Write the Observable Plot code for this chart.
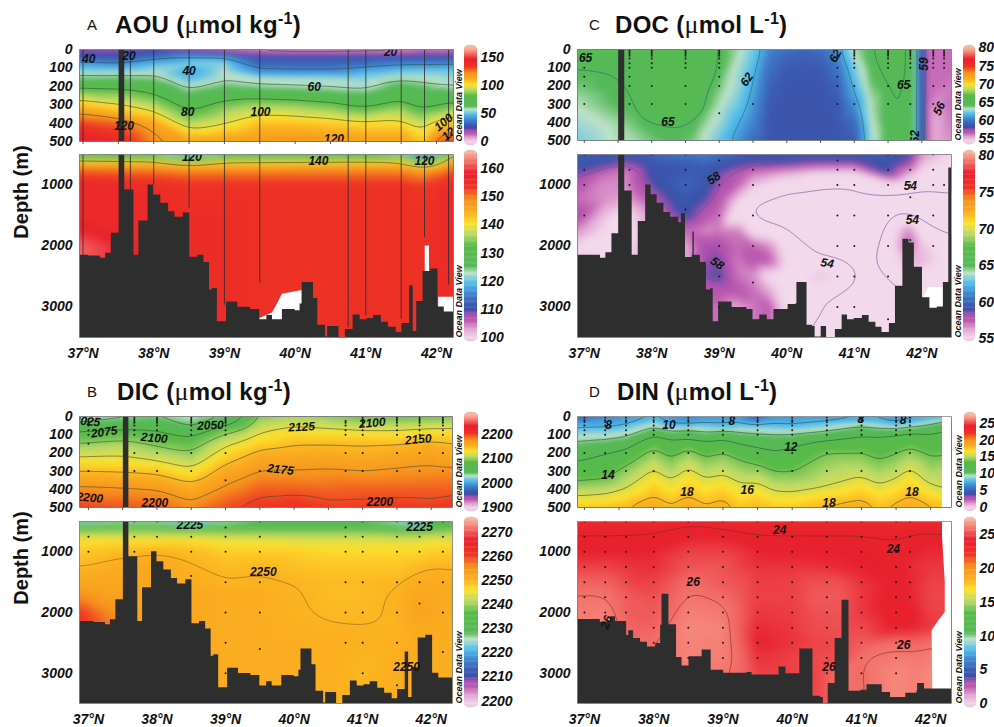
<!DOCTYPE html>
<html><head><meta charset="utf-8">
<script src="https://cdn.jsdelivr.net/npm/d3@7"></script>
<script src="https://cdn.jsdelivr.net/npm/@observablehq/plot@0.6"></script>
<style>
html,body{margin:0;background:#fff}
#root{position:relative;width:994px;height:727px;overflow:hidden;font-family:"Liberation Sans",Arial,sans-serif;color:#111}
#root>div{position:absolute}
.ttl{font-weight:bold;font-size:24px;line-height:26px;white-space:nowrap;letter-spacing:.3px}
.ttl .mu{font-family:"Liberation Serif",serif;font-weight:normal;font-size:26px}
.ttl sup{font-size:16px;line-height:0}
.let{font-size:15px;line-height:26px}
.dep{font-weight:bold;font-size:20px;white-space:nowrap;transform:translate(-50%,-50%) rotate(-90deg)}
</style></head><body><div id="root"></div>
<script>
// ---------- colour ramp ----------
const stopFrac=[0,.05,.09,.125,.15,.18,.235,.30,.355,.39,.5,.565,.625,.68,.75,.82,.9,1];
const stopCol=["#f3d9ec","#e0a0d0","#bd5bb0","#a94fae","#3c4fa8","#3c58b0","#3f7fcb","#52bdec","#bfe2c8","#56b95a","#58ba48","#b9d96a","#fde12e","#fbb120","#f6921e","#ee3424","#e8202e","#f9a08e"];

// ---------- bathymetry ----------
const bathyLat=[36.8,37.08,37.25,37.32,37.40,37.51,37.59,37.72,37.79,37.92,38.0,38.10,38.21,38.30,38.42,38.51,38.62,38.71,38.79,38.83,38.90,39.03,39.19,39.37,39.50,39.60,39.68,39.82,40.0,40.07,40.10,40.26,40.32,40.43,40.46,40.62,40.71,40.82,40.92,41.02,41.11,41.22,41.32,41.43,41.51,41.62,41.67,41.72,41.81,41.92,42.02,42.11,42.4];
const bathyDep=[2150,2165,2200,2120,1790,0,1080,2150,1590,1000,1165,1300,1440,1530,1460,2185,2150,2270,2720,2695,3240,2920,3005,3040,3210,3140,3210,3040,3060,2950,2600,2860,3300,3490,3320,3500,3370,3130,3210,3190,3140,3250,3330,3420,3270,2650,3400,2910,2420,2375,3000,3080,3080];
const bathyCLat=[36.8,37.24,37.32,37.41,37.51,37.60,37.71,37.80,37.91,37.99,38.08,38.18,38.28,38.40,38.44,38.50,38.60,38.61,38.63,38.72,38.81,38.87,38.91,38.99,39.19,39.41,39.50,39.60,39.71,39.81,40.0,40.02,40.13,40.15,40.30,40.38,40.42,40.51,40.59,40.72,40.82,40.90,41.0,41.12,41.22,41.32,41.41,41.52,41.61,41.72,41.81,41.89,42.01,42.12,42.23,42.32,42.40,42.5];
const bathyCDep=[2150,2200,2110,1800,0,1100,2150,1600,1000,1160,1300,1450,1530,1620,1470,2190,2150,1770,2150,2270,2720,2700,3240,2920,3010,3040,3210,3130,3210,3040,3040,2960,2950,2600,3300,3320,3490,3320,3500,3370,3130,3210,3190,3140,3250,3330,3420,3270,2660,1890,1950,2350,2850,3020,3000,2600,720,720];
const bathyDLat=[36.8,37.23,37.38,37.45,37.61,37.64,37.71,37.81,37.91,38.03,38.10,38.12,38.22,38.29,38.33,38.41,38.51,38.70,38.81,38.83,39.01,39.35,39.42,39.81,39.90,39.91,40.10,40.11,40.28,40.30,40.41,40.45,40.50,40.52,40.62,40.72,40.79,40.82,40.99,41.08,41.21,41.30,41.42,41.59,41.64,41.80,41.81,41.88,41.91,42.4];
const bathyDDep=[2115,2160,2070,2150,2380,2300,2430,2490,2570,2510,2210,1700,2200,2200,2740,2880,2730,2620,2620,2950,3000,2990,3030,2900,2900,3010,3010,2600,2600,3380,3400,3500,3500,3170,2430,1800,1800,3300,3280,3190,3190,3320,3400,3400,3330,3300,3170,3170,3260,3260];

// ---------- panel A ----------
const aTopLat=[36.95,37.5,38,38.5,39,39.5,40,40.5,41,41.5,41.8,42,42.25];
const aTopDep=[0,40,80,120,160,200,300,400,500];
const aTopVal=[
[20,20,22,15,12,10,8,8,8,8,12,10,12],
[30,28,35,45,42,28,28,28,28,28,28,28,28],
[46,42,50,53,55,33,33,33,35,40,40,40,42],
[55,55,57,45,57,42,41,41,48,52,53,53,52],
[63,64,62,50,58,58,57,57,55,59,58,57,55],
[78,78,72,57,63,60,59,57,56,66,63,60,58],
[108,100,92,74,85,90,88,84,76,85,75,78,83],
[133,128,115,92,99,108,108,106,103,103,95,103,110],
[150,142,124,117,118,121,121,120,118,118,108,128,135]];
const aBotLat=[36.95,38,38.5,39,40,41,41.5,41.8,42,42.25];
const aBotDep=[500,600,700,800,1000,1500,2000,2500,3000,3500];
const aBotVal=[
[125,124,118,124,124,125,122,112,118,135],
[140,140,133,139,140,140,140,130,135,146],
[148,147,145,146,146,146,146,142,144,151],
[152,151,150,150,150,150,150,148,150,153],
[156,155,154,154,154,154,154,153,154,156],
[156,156,155,155,154,154,154,154,155,157],
[162,156,155,155,154,154,154,154,155,156],
[162,156,155,155,154,154,154,154,155,155],
[155,155,155,155,154,154.5,154,154,155,155],
[155,155,155,155,154,154,154,154,155,155]];
const aRuleLat=[37,37.67,38,38.5,39,39.5,40.75,41,41.5,41.83,42.17];
const aRuleEnd=[2150,1100,1000,1380,2970,2610,3340,3150,3200,1860,2640];
const aGaps=[{lat:[39.5,39.68,39.75,39.82,40.1],dep:[3190,3100,2950,2790,2730]},{lat:[41.84,41.9],dep:[2000,2000]},{lat:[42.03,42.3],dep:[2840,2840]}];
const aTopLab={t:["40","20","40","20","60","80","100","120","120","100","12"],lat:[37.08,37.65,38.5,41.35,40.27,38.48,39.51,37.58,40.55,42.1,42.17],dep:[55,36,117,13,204,341,338,414,487,396,460],rot:[0,0,0,0,0,0,0,0,0,-40,-40]};
const aBotLab={t:["120","140","120"],lat:[38.54,40.33,41.83],dep:[546,606,606],rot:[0,0,0]};

// ---------- panel B ----------
const bTopLat=[36.87,37.5,38,38.5,39,39.25,39.5,40,40.5,41,41.5,42,42.31];
const bTopDep=[0,50,100,150,200,300,400,500];
const bTopVal=[
[2025,2035,2040,2030,2040,2060,2098,2105,2100,2090,2090,2090,2095],
[2060,2065,2065,2045,2076,2088,2115,2125,2120,2115,2115,2120,2120],
[2085,2090,2085,2070,2106,2115,2128,2138,2137,2135,2135,2140,2140],
[2100,2108,2095,2090,2122,2130,2141,2150,2150,2150,2150,2155,2150],
[2118,2120,2110,2100,2135,2145,2156,2157,2158,2155,2160,2165,2158],
[2150,2148,2145,2130,2160,2167,2176,2176,2178,2175,2178,2180,2180],
[2180,2178,2175,2160,2180,2187,2195,2195,2193,2195,2195,2195,2195],
[2205,2198,2197,2183,2200,2205,2208,2212,2205,2205,2207,2205,2212]];
const bBotLat=[36.87,37.4,38,38.5,39,39.5,40,40.5,41,41.5,41.8,42,42.31];
const bBotDep=[500,600,700,800,1000,1250,1500,1750,2000,2250,2500,3000,3500];
const bBotVal=[
[2222,2225,2225,2220,2225,2228,2228,2228,2228,2225,2219,2228,2230],
[2235,2236,2236,2233,2234,2234,2234,2234,2234,2232,2230,2234,2236],
[2242,2242,2242,2242,2241,2241,2241,2241,2241,2240,2240,2241,2242],
[2246,2246,2246,2246,2245,2245,2244,2244,2244,2244,2244,2245,2245],
[2248.5,2249.5,2250.5,2249.5,2248,2248,2248,2247,2247,2247,2247,2248,2248],
[2249.7,2251,2252,2250.3,2249.5,2249.8,2249,2248.5,2248.5,2248.5,2249.5,2250.2,2249.8],
[2252,2252,2252,2251,2250,2250.3,2250.1,2249.5,2249.5,2249.8,2251,2251.5,2251],
[2256,2253,2252,2252,2251,2251,2250.2,2249.5,2249.5,2250.2,2252,2252,2251],
[2261,2255,2252,2252,2251,2251,2250.3,2249.6,2249.6,2250.3,2252.5,2252,2251],
[2262,2256,2252,2252,2251,2251,2250.6,2250.2,2250.1,2250.2,2251.5,2251.5,2251],
[2262,2256,2252,2252,2251,2251,2251,2250.8,2250.4,2250.5,2251,2251,2251],
[2262,2256,2252,2252,2251,2251,2251,2250.6,2249.8,2251,2251,2251,2251],
[2262,2256,2252,2252,2251,2251,2251,2250.6,2249.8,2251,2251,2251,2251]];
const bTopLab={t:["2025","2075","2100","2050","2125","2100","2150","2175","2200","2200","2200"],lat:[36.98,37.23,37.96,38.78,40.11,41.14,41.81,39.8,37.02,37.97,41.25],dep:[27,86,119,49,58,36,126,292,447,478,469],rot:[5,-8,5,-3,-3,-5,-5,6,5,0,0]};
const bBotLab={t:["2225","2225","2250","2250"],lat:[38.48,41.83,39.55,41.64],dep:[563,590,1328,2896],rot:[0,0,0,0]};

// ---------- panel C ----------
const cTopLat=[36.9,37.5,37.7,38,38.3,38.6,39,39.3,39.5,39.75,40,40.25,40.5,40.75,41,41.25,41.5,41.75,41.88,41.95,42.03,42.08,42.2,42.44];
const cTopDep=[0,100,200,300,400,500];
const cTopVal=[
[66,65.5,66,66,66,66,65,64,63,61,60.3,60,60.3,61.5,64,65,65.5,65.5,65,60.5,59.3,57,57,57],
[65,65,65.2,66,66,66,65,63.5,62.5,60.3,59.6,59.5,59.6,60.5,63,64.8,65.3,65.5,65,60.5,59.3,57,57,57],
[64.5,65,65,66,66,66,64.5,63.3,62,59.8,59.3,59.3,59.3,59.8,62.3,64.5,65,65.2,65,60.5,59.3,57,57,56.8],
[64,64.8,64.8,66,66,66,64,62.8,61.5,59.5,59.3,59.3,59.3,59.5,61.3,64,65,65,64.8,60.5,59.3,57,56.5,57],
[63.5,64.2,64.5,65,65.1,65,63.5,62,61,59.3,59.3,59.3,59.3,59.4,60.2,63.8,65,65,64.8,60.5,59.3,57,56,56.8],
[63,64,64,64.5,64.8,64.5,62.8,61.3,60.3,59.3,59.3,59.3,59.3,59.3,59.6,63.5,65,65,64.5,60.5,59.3,57,56,56.5]];
const cBotLat=[36.9,37.3,37.6,38,38.5,38.8,39,39.25,39.5,39.75,40,40.5,41,41.5,41.8,42,42.44];
const cBotDep=[500,650,800,1000,1250,1500,1750,2000,2250,2500,2750,3000,3500];
const cBotVal=[
[59.5,59.5,59.5,60,60.8,61,60.5,60,59.5,59.5,59.5,59.5,59.5,59.5,59,56.5,55],
[59.5,59,58,59.3,59.5,59.8,59.5,59,58.5,58.5,58.5,58,58,59.3,58,55.5,54.8],
[58.5,57,56.5,59,59.5,59.5,58.5,57.5,56.8,56.5,56,55,54.8,58.8,56,54.8,54.8],
[57.5,56.5,56.5,58.5,60,59.3,58,57.3,55.5,54.8,54,53.8,53.8,53.9,53.9,54,54.1],
[57,56.5,56,57.5,59.5,58.5,57.5,55.5,53.9,53.8,53.8,53.8,53.8,53.8,53.8,53.8,53.9],
[58,55.5,54.5,56.5,59,57.5,57,53.8,53.7,53.7,53.5,53.5,53.5,53.5,53.5,53.5,53.5],
[56.5,55,54.5,56,57,56.5,56.8,56.8,54.5,54,53.9,53.5,53.5,53.8,56.8,54.3,53.9],
[55,54.5,55,56,56,58,58,57,57.2,56.5,54.3,53.8,53.5,54.2,57.3,55.5,54.1],
[55.5,55,55,56,56,58.2,58.5,56.8,57.5,57.3,54.8,54,53.8,54.2,56,55.8,54.2],
[55.5,55,55,56,57,58.4,58.7,57,56.5,54.5,54,55.6,54,53.8,54.5,54.8,54.5],
[55.5,55,55,56,57,57.5,57.5,57.5,57,56,54.2,54,53.9,53.8,54,54.3,54.5],
[55.5,55,55,56,57,57,57,56,56.8,57.3,54.5,54,53.8,53.8,53.9,54,54],
[55.5,55,55,56,57,57,57,56,56.8,57.3,54.2,53.8,53.9,53.9,53.9,54,54]];
const cGaps=[{lat:[42.03,42.1,42.28,42.33],dep:[2850,2680,2680,2680]}];
const cTopLab={t:["65","65","62","65","59","56","62","62"],lat:[37.02,38.24,39.41,41.73,42.03,42.26,40.72,41.9],dep:[47,398,165,198,80,325,35,480],rot:[0,0,-55,0,-90,-65,-60,-90]};
const cBotLab={t:["58","54","54","54","58"],lat:[38.92,41.83,41.86,40.6,38.97],dep:[890,1027,1574,2284,2284],rot:[-35,0,0,10,35]};

// ---------- panel D ----------
const dTopLat=[36.9,37.3,37.6,38,38.25,38.5,38.75,39,39.25,39.5,39.75,40,40.5,41,41.25,41.5,41.7,42,42.3];
const dSurface=[5.5,6.5,7,7.5,7,6.5,7,7,7,5.5,7,7,7,7.5,7.5,7,7.5,8,9];
const dLevels=[8,10,12,14,16,18];
const dIsoDepth=[
[58,60,45,10,45,50,40,50,40,45,45,50,30,20,25,40,30,10,5],
[135,125,110,60,80,70,85,75,85,90,95,95,80,50,65,70,60,40,20],
[246,205,180,100,125,125,135,125,150,170,190,165,130,105,105,90,80,90,60],
[356,345,270,170,230,175,225,195,240,265,305,305,195,195,240,205,170,220,205],
[436,425,395,285,350,275,340,315,365,360,410,415,385,330,375,340,280,380,410],
[510,510,490,430,480,430,480,450,520,490,520,520,480,450,500,470,430,480,520]];
const dBotLat=[36.9,37.3,37.7,38,38.5,39,39.25,39.5,40,40.3,40.7,41,41.5,41.75,42,42.3];
const dBotDep=[500,700,1000,1250,1500,1750,2000,2250,2500,2750,3000,3500];
const dBotVal=[
[23.3,23.3,23.4,23.5,23.7,23.5,23.4,23.3,23.3,23.3,23.3,23.3,23.3,23.5,23.3,23.3],
[24.1,24.1,24.1,24.1,24.2,24.2,24.1,24.1,24.1,24.1,24.1,24.1,24.1,24.1,24.1,24.1],
[24.3,24.3,24.3,24.4,25,25,24.8,24.4,24.3,24.3,24.3,24.3,24,24.3,24.5,24.5],
[25,25,24.7,24.6,25.4,25.4,25,24.7,24.7,24.7,24.5,24.3,24.2,24.6,24.8,24.8],
[25.7,25.7,25,25,25.9,25.5,25.4,24.9,25,25.3,25.3,24.7,24.2,24.5,25,25],
[26.1,26.1,25.5,25.3,26.1,25.9,25.5,25,25,25.5,25.5,24.8,24,24.5,25.1,25.1],
[26.2,26.3,25.5,25.5,26.3,26.2,25.7,24.8,24.9,25.3,25.4,24.8,24,24.3,25,25],
[26.5,26.3,25.7,25.7,26.5,26.4,25.6,24.5,24.8,25.2,25.3,25.2,24.2,24.4,24.8,24.8],
[26.5,26.3,25.8,26,26.4,26.3,25.7,24.3,24.7,25,25.2,25.6,26,25.8,26,26.1],
[26.5,26.3,25.8,26,26.4,26.3,25.9,24.7,25,25.2,25.3,26,26.2,26.2,26.3,26.3],
[26,26,26,26.2,26.2,26.1,25.8,25,25,25,26,25.9,26.5,26.3,26.5,26.5],
[26,26,26,26.2,26.2,26.1,25.8,25,25,25,26,25.9,26.5,26.3,26.5,26.5]];
const dWhiteTop={lat:[42.17,42.17],dep:[0,500]};
const dWhiteBot={lat:[42.17,42.17,42.21,42.21,42.11,42.02,42.03],dep:[500,750,1500,2000,2150,2300,3300]};
const dTopLab={t:["8","10","8","12","14","18","16","18","18","8","8"],lat:[37.35,38.22,39.13,39.98,37.34,38.48,39.35,40.53,41.73,40.99,41.6],dep:[49,46,27,168,323,418,405,478,414,13,18],rot:[0,0,0,0,0,0,0,0,0,0,0]};
const dBotLab={t:["24","24","26","26","26","26"],lat:[39.82,41.46,38.57,41.61,40.53,37.32],dep:[639,956,1503,2541,2896,2158],rot:[0,0,0,0,0,-70]};

// ---------- stations ----------
const bcLat=[37,37.67,38,38.5,39,39.5,40.75,41,41.5,41.83,42.17];
const bTopSt=[[15,25,35,50,75,100,150,300],[5,15,25,35,50,75,100,200,300],[5,15,25,35,50,75,100,200,300],[5,15,25,35,50,75,100,200,300],[5,15,25,35,50,75,100,200,350],[300],[25,35,50,75,100,200,300],[5,15,25,35,50,75,100,200,300],[5,15,25,35,50,75,100,200,300],[5,15,25,35,50,75,100,200,300],[5,15,25,35,50,75,100,200,300]];
const bBotSt=[[750,1000],[500,750,1000],[500,750],[500,750,1000,1400],[600,750,1000,1500,2000,2500,3000],[500,750,1000,1500,2000,2600],[600,750,1000,1500,2000,2500],[500,750,1000,1500,2000,2500,3000],[500,750,1000,1500,2000,2500,3200],[750,1000,1500,1850],[500,750,1000,1500,2000,2650]];
const cStLat=[37,37.67,38,38.5,39,39.5,40.75,41,41.5,41.83,42.17,42.33];
const cTopSt=[[50,100,150,200,300],[5,15,25,35,50,75,100,150,200,300],[5,15,25,35,50,75,100,200,300],[5,15,25,35,50,75,100,200,300],[5,15,25,35,50,75,100,150,200,350],[300],[35,50,100,150,200,300],[5,15,25,35,50,75,100,200,300],[5,15,25,35,50,75,100,200,300],[5,15,25,35,50,75,100,200,300],[5,15,25,35,50,75,100,200,300],[5,15,25,35,50,75,100,200]];
const cBotSt=[[500,750,1000,1500],[750,1000],[500],[500,750,1000,1400],[600,1000,1500,2000,2500,3000],[750,1000,1500,2000,2600],[600,750,1000,1500,2000,2500,3000],[750,1000,1500,2000,2500,3000],[500,750,1000,1500,2000,2500,3200],[750,1000,1200,1500,1900],[500,750,1000,1500,2000],[1000]];
const dStLat=[37,37.3,37.6,38,38.5,39,39.5,40,40.5,41,41.5,41.7];
const dTopSt=[5,20,30,50,75,100,200,300];
const dBotRows=[500,750,1000,1250,1500,1750,2000,2250,2500,2750,3000];
const dBotMax=[2000,2000,2000,2500,2750,2900,2750,2500,3000,3000,3000,1750];

// ---------- text ----------
const yTicksTop=[0,100,200,300,400,500], yTicksBot=[1000,2000,3000];
const xMajor=[37,38,39,40,41,42], xHalf=[37,37.5,38,38.5,39,39.5,40,40.5,41,41.5,42];
const titles=[
 {l:"A",lx:87,tx:115,y:12,a:"AOU (",b:"mol kg",s:"-1"},
 {l:"C",lx:589,tx:615,y:12,a:"DOC (",b:"mol L",s:"-1"},
 {l:"B",lx:87,tx:117,y:379,a:"DIC (",b:"mol kg",s:"-1"},
 {l:"D",lx:589,tx:617,y:379,a:"DIN (",b:"mol L",s:"-1"}];

// ---------- helpers ----------
const root=document.getElementById("root");
const place=(node,l,t)=>{const d=document.createElement("div");d.style.left=l+"px";d.style.top=t+"px";d.style.width=node.getAttribute("width")+"px";d.appendChild(node);root.appendChild(d);return d;};
const gridPts=(lats,deps,rows)=>deps.flatMap((dep,i)=>lats.map((lat,j)=>({lat,dep,v:rows[i][j]})));
const zip=o=>o.lat.map((lat,i)=>({lat,dep:o.dep[i]}));
const labelPts=o=>o.t.map((t,i)=>({t,lat:o.lat[i],dep:o.dep[i],rot:o.rot[i]}));
const stPts=(lats,lists)=>lats.flatMap((lat,i)=>lists[i].map(dep=>({lat,dep})));
const stRows=(lats,rows,max)=>lats.flatMap((lat,i)=>rows.filter(r=>r<=max[i]).map(dep=>({lat,dep})));
const colorScale=c=>({type:"linear",domain:stopFrac.map(f=>c[0]+f*(c[1]-c[0])),range:stopCol,clamp:true});
const mL=62,mR=3,mT=3,mB=26;
const textStyle={fontFamily:"'Liberation Sans',Arial,sans-serif",fontWeight:"bold",fontStyle:"italic",fontSize:"14px",overflow:"visible",background:"transparent",maxWidth:"none"};

function section(o){
  const top=o.dep[0]===0;
  const bath=o.bathyLat.map((lat,i)=>({lat,dep:o.bathyDep[i]}));
  const w=o.x1-o.x0,h=o.y1-o.y0;
  const blur=o.blur??(top?2:3);
  const marks=[
    Plot.raster(o.pts,{x:"lat",y:"dep",fill:"v",interpolate:"barycentric",blur}),
    Plot.contour(o.pts,{x:"lat",y:"dep",value:"v",thresholds:o.th,interpolate:"barycentric",blur:blur+1,stroke:o.line||"#2b4a3a",strokeWidth:0.8,strokeOpacity:0.75,fill:"none"}),
    ...(o.gaps||[]).map(g=>Plot.areaY(zip(g),{x:"lat",y1:o.dep[1],y2:"dep",fill:"white",clip:true})),
    ...(o.whiteSide?[Plot.areaX(zip(o.whiteSide),{y:"dep",x1:"lat",x2:o.lat[1],fill:"white",clip:true})]:[]),
    Plot.areaY(bath,{x:"lat",y1:o.dep[1],y2:"dep",fill:"#2e2e2e",curve:"step-after",clip:true}),
    ...(o.rules?[Plot.ruleX(o.rules,{x:"lat",y1:o.dep[0],y2:"end",stroke:"#2a2a2a",strokeWidth:1,strokeOpacity:0.8,clip:true})]:[]),
    ...(o.dots?[Plot.dot(o.dots,{x:"lat",y:"dep",r:1,fill:"#1a1a1a",clip:true})]:[]),
    Plot.text(labelPts(o.lab),{x:"lat",y:"dep",text:"t",rotate:"rot",fontSize:12,fill:"#111",clip:true}),
    Plot.frame({stroke:"#8a8a8a",strokeWidth:0.8}),
    Plot.axisY({ticks:top?yTicksTop:yTicksBot,tickSize:0,tickPadding:7,anchor:"left",tickFormat:d=>String(d),label:null}),
    top?Plot.axisX({ticks:xHalf,tickSize:3,tickFormat:()=>"",anchor:"bottom",label:null,stroke:"#555"})
       :Plot.axisX({ticks:xMajor,tickSize:0,tickPadding:11,tickFormat:d=>d+"°N",anchor:"bottom",label:null})
  ];
  const p=Plot.plot({width:w+mL+mR,height:h+mT+mB,marginLeft:mL,marginRight:mR,marginTop:mT,marginBottom:mB,
    x:{domain:o.lat},y:{domain:o.dep,reverse:true},color:colorScale(o.col),style:textStyle,marks});
  place(p,o.x0-mL,o.y0-mT);
}

function bar(o){
  const vals=d3.range(0,151).map(i=>o.col[0]+i/150*(o.col[1]-o.col[0]));
  const w=o.x1-o.x0,h=o.y1-o.y0;
  const span=o.col[1]-o.col[0], cap=span*4/h;
  const p=Plot.plot({width:w+16+42,height:h+12,marginLeft:16,marginRight:42,marginTop:6,marginBottom:6,
    x:{domain:[0,1],axis:null},y:{domain:o.col},color:colorScale(o.col),style:textStyle,
    marks:[
      Plot.rect([{}],{x1:0,x2:1,y1:o.col[1]-cap,y2:o.col[1]+cap,rx:6,ry:4,fill:"#f6b79f",stroke:"#c9c9c9",strokeWidth:0.5}),
      Plot.rect([{}],{x1:0,x2:1,y1:o.col[0]-cap,y2:o.col[0]+cap,rx:6,ry:4,fill:"#eecbe6",stroke:"#c9c9c9",strokeWidth:0.5}),
      Plot.ruleY(vals,{y:d=>d,stroke:d=>d,strokeWidth:1.6}),
      Plot.axisY({ticks:o.ticks,anchor:"right",tickSize:0,tickPadding:3,tickFormat:d=>String(d),label:null,dy:o.dy||0}),
      Plot.text(["Ocean Data View"],{frameAnchor:"bottom-left",rotate:-90,textAnchor:"start",dx:-3,fontSize:9})
    ]});
  place(p,o.x0-16,o.y0-6);
}

// ---------- panels ----------
const aLat=[36.95,42.24], bLat=[36.87,42.31], cLat=[36.9,42.44], dLat=[36.9,42.3];
const aRules=aRuleLat.map(lat=>({lat,end:500}));
const aRulesB=aRuleLat.map((lat,i)=>({lat,end:aRuleEnd[i]}));
const dTopPts=[
  ...dTopLat.map((lat,j)=>({lat,dep:0,v:dSurface[j]})),
  ...dLevels.flatMap((v,i)=>dTopLat.map((lat,j)=>({lat,dep:dIsoDepth[i][j],v}))),
  ...dTopLat.map(lat=>({lat,dep:620,v:20}))];

section({x0:79,x1:453,y0:49,y1:141,lat:aLat,dep:[0,500],col:[0,164],pts:gridPts(aTopLat,aTopDep,aTopVal),th:[20,40,60,80,100,120],bathyLat,bathyDep,rules:aRules,lab:aTopLab});
section({x0:79,x1:453,y0:154,y1:337,lat:aLat,dep:[500,3500],col:[100,165],pts:gridPts(aBotLat,aBotDep,aBotVal),th:[120,140],bathyLat,bathyDep,gaps:aGaps,rules:aRulesB,lab:aBotLab});
section({x0:79,x1:452,y0:416,y1:507,lat:bLat,dep:[0,500],col:[1900,2274],pts:gridPts(bTopLat,bTopDep,bTopVal),th:[2025,2050,2075,2100,2125,2150,2175,2200],bathyLat,bathyDep,dots:stPts(bcLat,bTopSt),lab:bTopLab,line:"#3a4a30"});
section({x0:79,x1:452,y0:521,y1:703,lat:bLat,dep:[500,3500],col:[2199,2274.5],pts:gridPts(bBotLat,bBotDep,bBotVal),th:[2225,2250],bathyLat,bathyDep,dots:stPts(bcLat,bBotSt),lab:bBotLab,line:"#8a5a20"});
section({x0:577,x1:951,y0:49,y1:140,lat:cLat,dep:[0,500],col:[55,80],pts:gridPts(cTopLat,cTopDep,cTopVal),th:[56,59,62,65],bathyLat:bathyCLat,bathyDep:bathyCDep,dots:stPts(cStLat,cTopSt),lab:cTopLab,line:"#1f6a5a"});
section({x0:577,x1:951,y0:154,y1:337,lat:cLat,dep:[500,3500],col:[55,80],pts:gridPts(cBotLat,cBotDep,cBotVal),th:[54,58],bathyLat:bathyCLat,bathyDep:bathyCDep,gaps:cGaps,dots:stPts(cStLat,cBotSt),lab:cBotLab,line:"#6a4f9a"});
section({x0:577,x1:951,y0:416,y1:507,lat:dLat,dep:[0,500],col:[0,27],pts:dTopPts,th:[8,10,12,14,16,18],bathyLat:[36.8,42.4],bathyDep:[4000,4000],whiteSide:dWhiteTop,dots:stPts(dStLat,dStLat.map(()=>dTopSt)),lab:dTopLab,blur:1});
section({x0:577,x1:951,y0:521,y1:703,lat:dLat,dep:[500,3500],col:[0,27],pts:gridPts(dBotLat,dBotDep,dBotVal),th:[24,26],bathyLat:bathyDLat,bathyDep:bathyDDep,whiteSide:dWhiteBot,dots:stRows(dStLat,dBotRows,dBotMax),lab:dBotLab,line:"#7a2a20"});

bar({x0:464,x1:477,y0:49,y1:141,col:[0,164],ticks:[0,50,100,150]});
bar({x0:464,x1:477,y0:154,y1:337,col:[100,165],ticks:[100,110,120,130,140,150,160]});
bar({x0:464,x1:478,y0:416,y1:507,col:[1900,2274],ticks:[1900,2000,2100,2200]});
bar({x0:464,x1:478,y0:521,y1:703,col:[2199,2274.5],ticks:[2200,2210,2220,2230,2240,2250,2260,2270]});
bar({x0:963,x1:975,y0:49,y1:140,col:[55,80],ticks:[55,60,65,70,75,80],dy:-1.5});
bar({x0:963,x1:975,y0:154,y1:337,col:[55,80],ticks:[55,60,65,70,75,80],dy:1.5});
bar({x0:964,x1:976,y0:416,y1:507,col:[0,27],ticks:[0,5,10,15,20,25]});
bar({x0:964,x1:976,y0:521,y1:703,col:[0,27],ticks:[0,5,10,15,20,25]});

// ---------- titles ----------
titles.forEach(t=>{
  const a=document.createElement("div");a.className="let";a.textContent=t.l;a.style.left=t.lx+"px";a.style.top=t.y+"px";root.appendChild(a);
  const b=document.createElement("div");b.className="ttl";b.style.left=t.tx+"px";b.style.top=t.y+"px";
  b.innerHTML=t.a+'<span class="mu">μ</span>'+t.b+'<sup>'+t.s+'</sup>)';root.appendChild(b);
});
[[21,192],[21,558]].forEach(([x,y])=>{const d=document.createElement("div");d.className="dep";d.textContent="Depth (m)";d.style.left=x+"px";d.style.top=y+"px";root.appendChild(d);});
</script></body></html>
